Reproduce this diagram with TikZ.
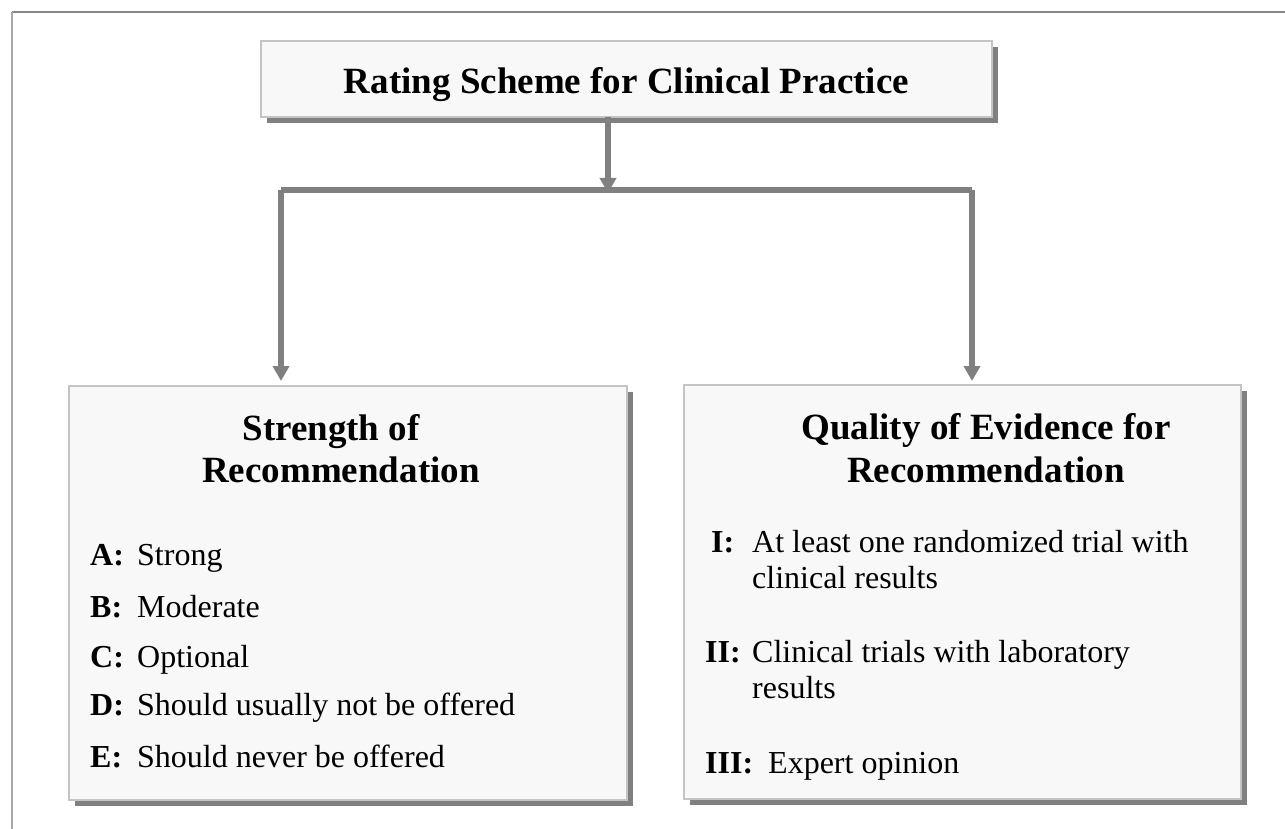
\documentclass[tikz,border=0pt]{standalone}
\usepackage{fontspec}
\setmainfont{Liberation Serif}
\usetikzlibrary{arrows.meta,shadows}
\definecolor{boxfill}{HTML}{F8F8F8}
\definecolor{boxline}{HTML}{C4C4C4}
\definecolor{shadowgray}{HTML}{808080}
\definecolor{arrowgray}{HTML}{808080}
\definecolor{frametop}{HTML}{888888}
\definecolor{frameleft}{HTML}{A8A8A8}
\begin{document}
\begin{tikzpicture}[x=1pt,y=-1pt,
  panel/.style={draw=boxline,line width=2pt,fill=boxfill,inner sep=0pt,
    drop shadow={shadow xshift=6pt,shadow yshift=-6pt,fill=shadowgray,opacity=1}},
  titletext/.style={font=\fontsize{37}{44}\selectfont\bfseries,inner sep=0pt,anchor=base},
  headtext/.style={font=\fontsize{37}{44}\selectfont\bfseries,inner sep=0pt,anchor=base},
  labeltext/.style={font=\fontsize{32}{38}\selectfont\bfseries,inner sep=0pt,anchor=base west},
  itemtext/.style={font=\fontsize{32}{38}\selectfont,inner sep=0pt,anchor=base west},
  conn/.style={draw=arrowgray,line width=6pt,line join=miter},
  tip/.style={-{Triangle[width=16pt,length=15pt]}}
]
\useasboundingbox (0,0) rectangle (1285,829);
% frame
\draw[frametop,line width=1.5pt] (12,12) -- (1285,12);
\draw[frameleft,line width=2pt] (12,12) -- (12,829);

% boxes
\node[panel,minimum width=731pt,minimum height=76pt] (title) at (626.5,79) {};
\node[panel,minimum width=558pt,minimum height=414pt] (left) at (348,593) {};
\node[panel,minimum width=557pt,minimum height=414pt] (right) at (962.5,592) {};

% title text
\node[titletext] (titlet) at (626.5,94) {Rating Scheme for Clinical Practice};

% connectors
\coordinate (tstart) at (608,117);
\coordinate (lc) at (281,190);
\coordinate (rc) at (972,190);
\coordinate (mid) at (608,190);
\coordinate (ltip) at (281,381);
\coordinate (rtip) at (972,381);
\draw[conn] (lc) -- (rc);
\draw[conn,tip,shorten >=-3pt] (tstart) -- (mid);
\draw[conn,tip] (lc) -- (ltip);
\draw[conn,tip] (rc) -- (rtip);

% left box text
\node[headtext] (lh1) at (331,440) {Strength of};
\node[headtext] (lh2) at (341,482) {Recommendation};
\node[labeltext] (la) at (90,565) {A:};
\node[itemtext] (lat) at (137,565) {Strong};
\node[labeltext] (lb) at (90,617) {B:};
\node[itemtext] (lbt) at (137,617) {Moderate};
\node[labeltext] (lcl) at (90,667) {C:};
\node[itemtext] (lct) at (137,667) {Optional};
\node[labeltext] (ld) at (90,715) {D:};
\node[itemtext] (ldt) at (137,715) {Should usually not be offered};
\node[labeltext] (le) at (90,767) {E:};
\node[itemtext] (let) at (137,767) {Should never be offered};

% right box text
\node[headtext] (rh1) at (986,439) {Quality of Evidence for};
\node[headtext] (rh2) at (986,482) {Recommendation};
\node[labeltext] (ri) at (711,552) {I:};
\node[itemtext] (rit1) at (752,552) {At least one randomized trial with};
\node[itemtext] (rit2) at (752,588) {clinical results};
\node[labeltext] (rii) at (705,662) {II:};
\node[itemtext] (riit1) at (752,662) {Clinical trials with laboratory};
\node[itemtext] (riit2) at (752,698) {results};
\node[labeltext] (riii) at (705,773) {III:};
\node[itemtext] (riiit) at (768,773) {Expert opinion};
\end{tikzpicture}
\end{document}
